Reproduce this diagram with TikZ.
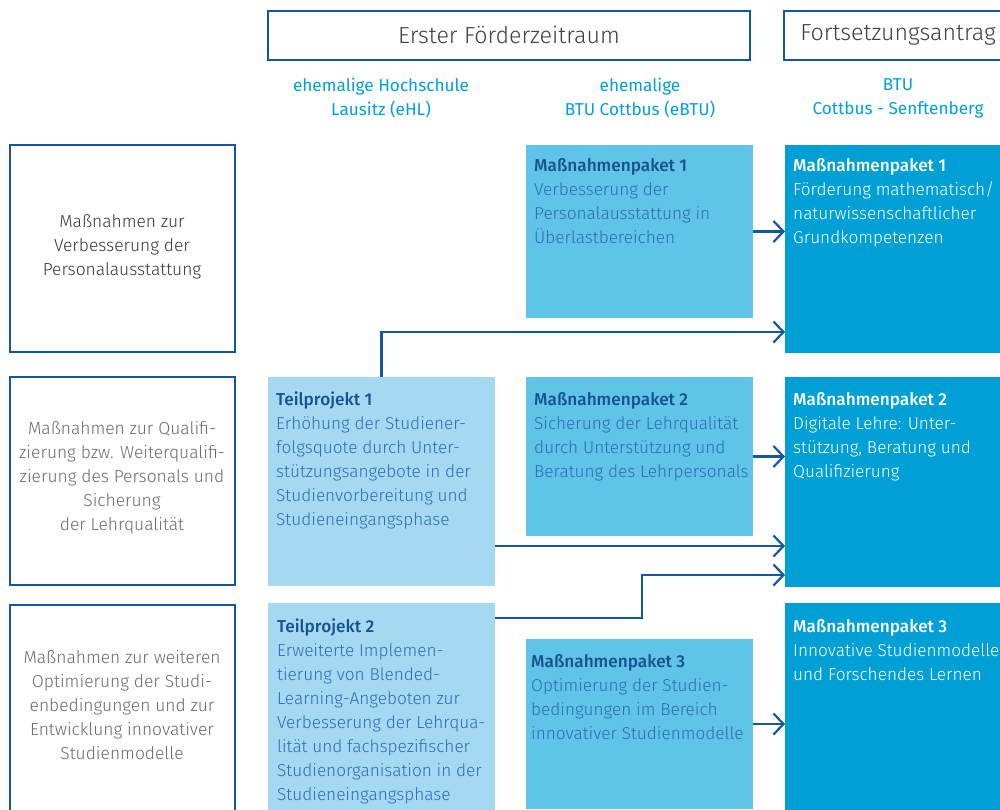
\documentclass[tikz,border=0pt]{standalone}
\usepackage{fontspec}
\setmainfont{Fira Sans}[UprightFont={* Light},BoldFont={* Medium}]
\newfontfamily\regfont{Fira Sans}
\usetikzlibrary{arrows.meta}

\definecolor{rahmen}{HTML}{1356A3}
\definecolor{hellblau}{HTML}{A5D9F1}
\definecolor{mittelblau}{HTML}{5FC4E7}
\definecolor{dunkelblau}{HTML}{00A0D6}
\definecolor{titelblau}{HTML}{17518F}
\definecolor{textblau}{HTML}{2D6DB3}
\definecolor{cyan}{HTML}{00A0DA}

\tikzset{
	feld/.style={anchor=north west,inner sep=0pt,outer sep=0pt},
	rahmenbox/.style={feld,draw=rahmen,line width=2.8pt,fill=white},
	tpbox/.style={feld,fill=hellblau},
	mpbox/.style={feld,fill=mittelblau},
	zielbox/.style={feld,fill=dunkelblau},
	inhalt/.style={anchor=north west,inner sep=0pt,align=left,font=\fontsize{17.2}{24}\selectfont},
	links/.style={align=center,inner sep=0pt,font=\fontsize{17.4}{24}\selectfont},
	pfeil/.style={draw=rahmen,line width=2.2pt,-{Straight Barb[length=10pt,width=21pt]}}
}

\begin{document}
\begin{tikzpicture}[x=1pt,y=-1pt]
	\useasboundingbox (0,0) rectangle (1000,809);
	\clip (0,0) rectangle (1000,809);
	% Kopfzeile
	\node[rahmenbox,minimum width=482pt,minimum height=49pt] (erster) at (268,11) {};
	\node[rahmenbox,minimum width=250pt,minimum height=49pt] (fortsetzung) at (784,11) {};
	\node[text=black!75,font=\fontsize{23.2}{27}\selectfont] (erstertext) at (509,35) {Erster Förderzeitraum};
	\node[text=black!75,font=\fontsize{23.2}{27}\selectfont] (forttext) at (898,35) {Fortsetzungsantrag};
	\node[links,text=cyan,font=\regfont\fontsize{17.2}{24}\selectfont] (ehl) at (381,98) {ehemalige Hochschule\\Lausitz (eHL)};
	\node[links,text=cyan,font=\regfont\fontsize{17.2}{24}\selectfont] (ebtu) at (640,98) {ehemalige\\BTU Cottbus (eBTU)};
	\node[links,text=cyan,font=\regfont\fontsize{17.2}{24}\selectfont] (btu) at (898,98) {BTU\\Cottbus - Senftenberg};
	% linke Spalte
	\node[rahmenbox,minimum width=225pt,minimum height=207pt] (zeile1) at (10,145) {};
	\node[rahmenbox,minimum width=225pt,minimum height=208pt] (zeile2) at (10,377) {};
	\node[rahmenbox,minimum width=225pt,minimum height=250pt] (zeile3) at (10,605) {};
	\node[links,text=black!78] (zeile1text) at (122,247) {Maßnahmen zur\\Verbesserung der\\Personalausstattung};
	\node[links,text=black!58] (zeile2text) at (122,478) {Maßnahmen zur Qualifi-\\zierung bzw. Weiterqualifi-\\zierung des Personals und\\Sicherung\\der Lehrqualität};
	\node[links,text=black!58] (zeile3text) at (122,705) {Maßnahmen zur weiteren\\Optimierung der Studi-\\enbedingungen und zur\\Entwicklung innovativer\\Studienmodelle};
	% eHL
	\node[tpbox,minimum width=227pt,minimum height=209pt] (tp1) at (268,377) {};
	\node[tpbox,minimum width=227pt,minimum height=250pt] (tp2) at (268,603) {};
	\node[inhalt,text=textblau] (tp1text) at ([shift={(8,15)}]tp1.north west) {\textcolor{titelblau}{\bfseries Teilprojekt 1}\\Erhöhung der Studiener-\\folgsquote durch Unter-\\stützungsangebote in der\\Studienvorbereitung und\\Studieneingangsphase};
	\node[inhalt,text=textblau] (tp2text) at ([shift={(9,16)}]tp2.north west) {\textcolor{titelblau}{\bfseries Teilprojekt 2}\\Erweiterte Implemen-\\tierung von Blended-\\Learning-Angeboten zur\\Verbesserung der Lehrqua-\\lität und fachspezifischer\\Studienorganisation in der\\Studieneingangsphase};
	% eBTU
	\node[mpbox,minimum width=227pt,minimum height=173pt] (mp1) at (526,145) {};
	\node[mpbox,minimum width=227pt,minimum height=159pt] (mp2) at (526,377) {};
	\node[mpbox,minimum width=227pt,minimum height=170pt] (mp3) at (526,639) {};
	\node[inhalt,text=textblau] (mp1text) at ([shift={(8,13)}]mp1.north west) {\textcolor{titelblau}{\bfseries Maßnahmenpaket 1}\\Verbesserung der\\Personalausstattung in\\Überlastbereichen};
	\node[inhalt,text=textblau] (mp2text) at ([shift={(8,15)}]mp2.north west) {\textcolor{titelblau}{\bfseries Maßnahmenpaket 2}\\Sicherung der Lehrqualität\\durch Unterstützung und\\Beratung des Lehrpersonals};
	\node[inhalt,text=textblau] (mp3text) at ([shift={(5,15)}]mp3.north west) {\textcolor{titelblau}{\bfseries Maßnahmenpaket 3}\\Optimierung der Studien-\\bedingungen im Bereich\\innovativer Studienmodelle};
	% BTU Cottbus - Senftenberg
	\node[zielbox,minimum width=240pt,minimum height=208pt] (ziel1) at (785,145) {};
	\node[zielbox,minimum width=240pt,minimum height=210pt] (ziel2) at (785,377) {};
	\node[zielbox,minimum width=240pt,minimum height=250pt] (ziel3) at (785,603) {};
	\node[inhalt,text=white] (ziel1text) at ([shift={(8,13)}]ziel1.north west) {{\bfseries Maßnahmenpaket 1}\\Förderung mathematisch/\\naturwissenschaftlicher\\Grundkompetenzen};
	\node[inhalt,text=white] (ziel2text) at ([shift={(8,15)}]ziel2.north west) {{\bfseries Maßnahmenpaket 2}\\Digitale Lehre: Unter-\\stützung, Beratung und\\Qualifizierung};
	\node[inhalt,text=white] (ziel3text) at ([shift={(8,16)}]ziel3.north west) {{\bfseries Maßnahmenpaket 3}\\Innovative Studienmodelle\\und Forschendes Lernen};
	% Pfeile
	\draw[pfeil] (mp1.east) -- (mp1.east -| ziel1.west);
	\draw[pfeil] (mp2.east) -- (mp2.east -| ziel2.west);
	\draw[pfeil] (mp3.east) -- (mp3.east -| ziel3.west);
	\draw[pfeil] (tp1.north) |- ([yshift=21pt]ziel1.south west);
	\draw[pfeil] ([yshift=40pt]tp1.south east) -- ([yshift=41pt]ziel2.south west);
	\draw[pfeil] ([yshift=-15pt]tp2.north east) -- ++(147,0) |- ([yshift=12pt]ziel2.south west);
\end{tikzpicture}
\end{document}
